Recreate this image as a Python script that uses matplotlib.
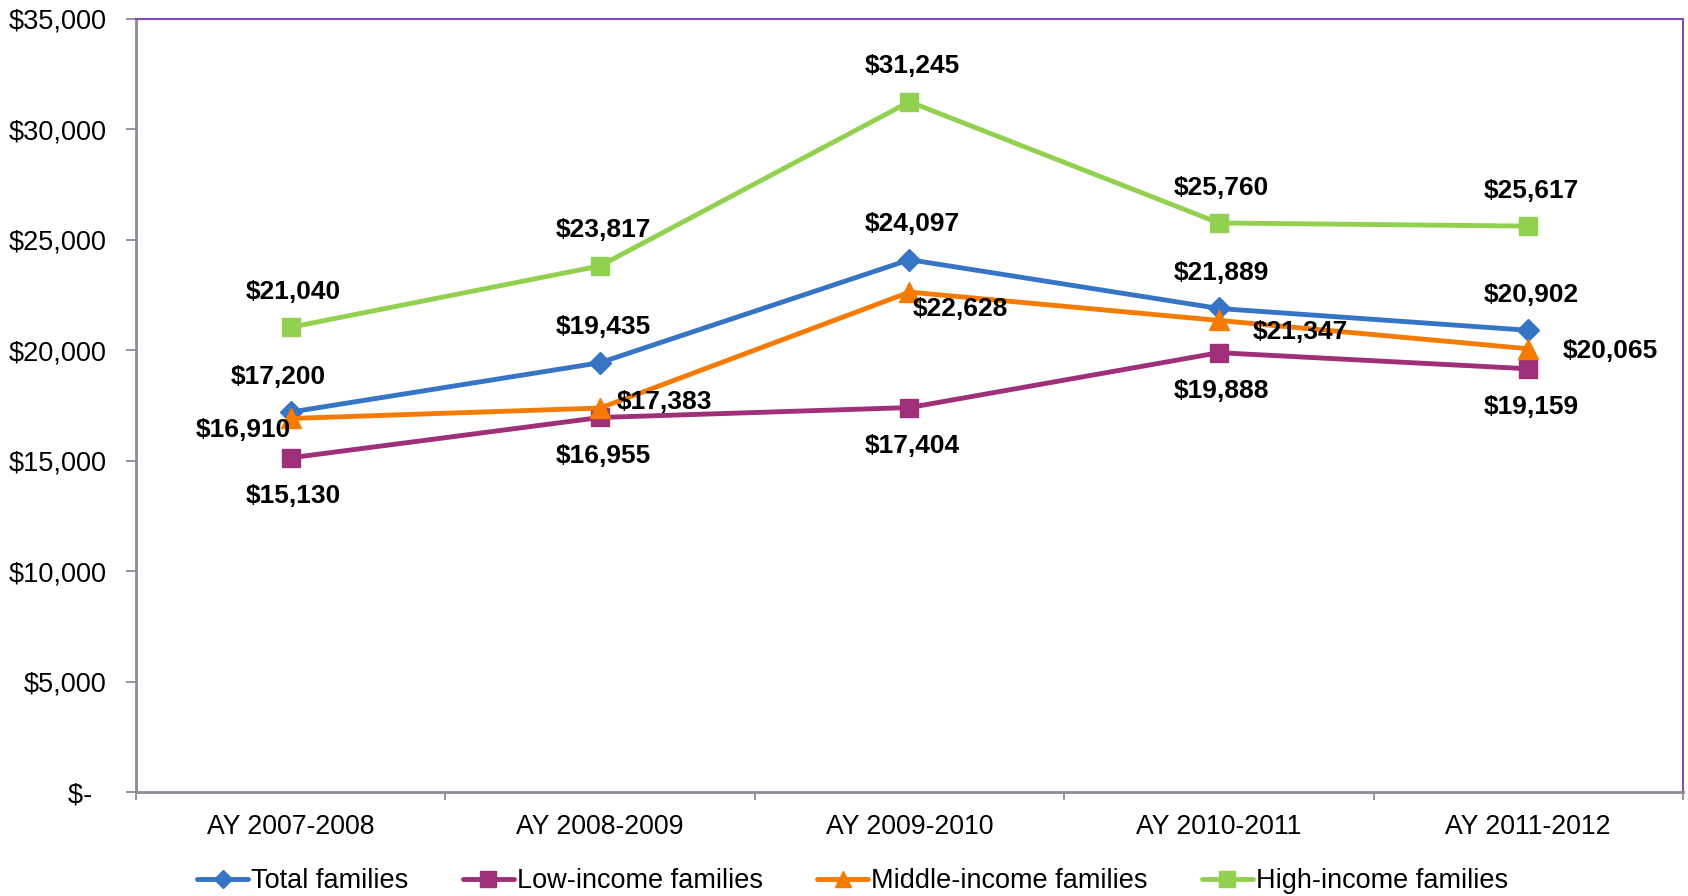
import numpy as np
import matplotlib
matplotlib.use("Agg")
import matplotlib.pyplot as plt
from matplotlib.ticker import FixedLocator

plt.rcParams['font.family'] = ['Liberation Sans', 'DejaVu Sans']

# data
years = ['AY 2007-2008', 'AY 2008-2009', 'AY 2009-2010', 'AY 2010-2011', 'AY 2011-2012']
total = [17200, 19435, 24097, 21889, 20902]
low = [15130, 16955, 17404, 19888, 19159]
middle = [16910, 17383, 22628, 21347, 20065]
high = [21040, 23817, 31245, 25760, 25617]
y_ticks = [0, 5000, 10000, 15000, 20000, 25000, 30000, 35000]

fig = plt.figure(figsize=(16.88, 8.96), dpi=100)
ax = fig.add_axes([0.0806, 0.116, 0.9164, 0.863])

x = np.arange(len(years))

# label offsets in points (dx, dy) and alignment, per point
above = [((2, 25.5), 'center')] * 5
below = [((2, -27.5), 'center')] * 5
total_lbl = [((-9, 25.5), 'center')] + above[1:]
middle_lbl = [((0, -8), 'right'), ((12, 4), 'left'), ((2.5, -12), 'left'),
              ((24, -8), 'left'), ((25, -1.5), 'left')]

series = [
    (total, 'Total families', '#3674c6', 'D', 11, total_lbl),
    (low, 'Low-income families', '#9e2f78', 's', 13, below),
    (middle, 'Middle-income families', '#f57a00', '^', 14, middle_lbl),
    (high, 'High-income families', '#92d050', 's', 13, above),
]

for vals, name, col, mk, ms, lbls in series:
    ax.plot(x, vals, color=col, lw=3.5, marker=mk, markersize=ms,
            markeredgecolor=col, label=name, solid_capstyle='round', zorder=3)
    for xi, v, (off, ha) in zip(x, vals, lbls):
        ax.annotate('${:,}'.format(v), (xi, v), xytext=off, textcoords='offset points',
                    ha=ha, va='center', fontsize=19, fontweight='bold', zorder=4)

ax.set_xlim(-0.5, len(years) - 0.5)
ax.set_ylim(0, 35000)

ax.set_xticks(x)
ax.set_xticklabels(years, fontsize=19.2)
ax.xaxis.set_minor_locator(FixedLocator(np.arange(-0.5, len(years), 1.0)))
ax.tick_params(axis='x', which='major', length=0, pad=16)
ax.tick_params(axis='x', which='minor', length=6, width=1.3, color='#8c8a95')

ax.set_yticks(y_ticks)
ax.set_yticklabels(['$-  '] + ['${:,}'.format(t) for t in y_ticks[1:]], fontsize=19.5)
ax.tick_params(axis='y', length=7, width=1.3, color='#8c8a95', pad=14)

for s in ['left', 'bottom']:
    ax.spines[s].set_color('#8c8a95')
    ax.spines[s].set_linewidth(2)
for s in ['top', 'right']:
    ax.spines[s].set_color('#7e4fb5')
    ax.spines[s].set_linewidth(1.5)

fig.legend(loc='center', bbox_to_anchor=(0.505, 1 - 881 / 896), ncol=4,
           frameon=False, fontsize=19.5, handlelength=1.9, handletextpad=0.1,
           columnspacing=2.0, borderaxespad=0, markerscale=0.85)

fig.savefig('out.png', dpi=100)
